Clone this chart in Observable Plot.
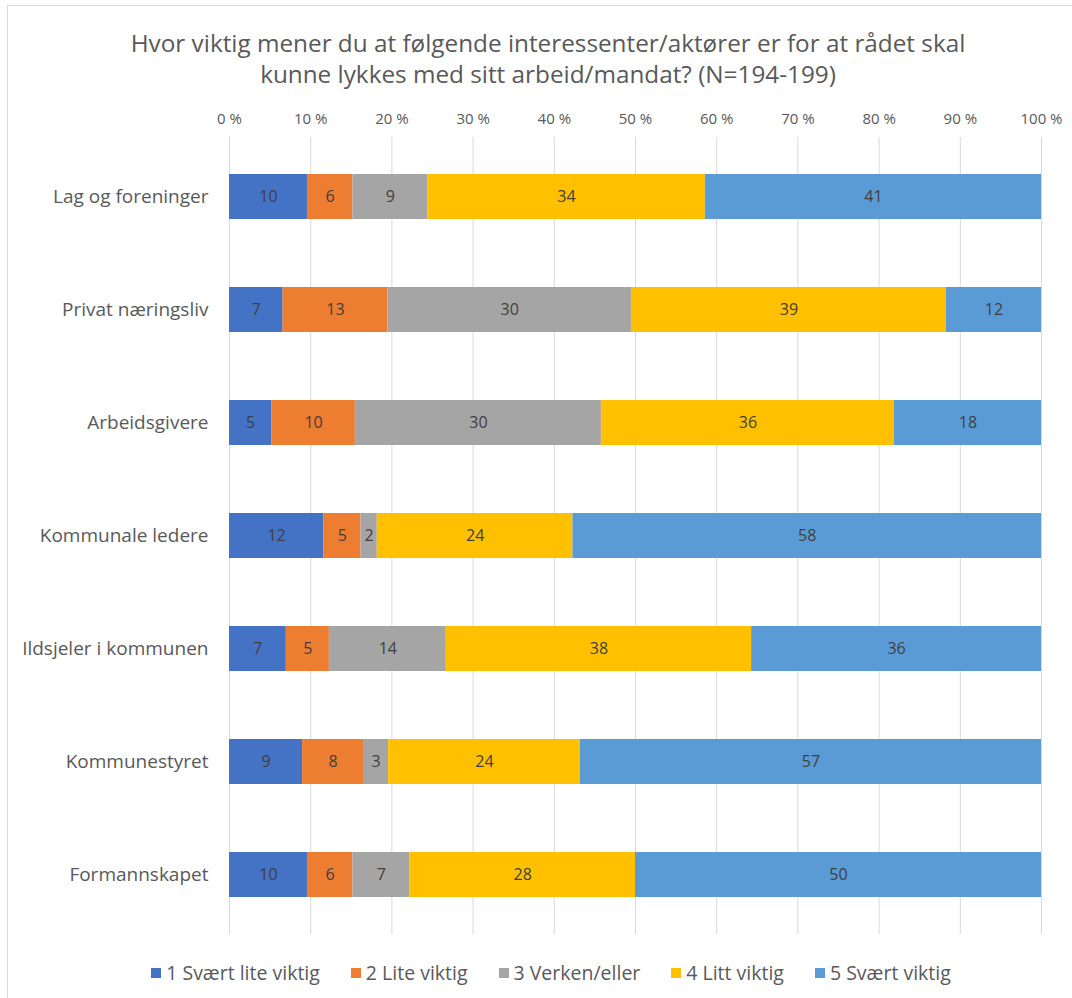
<!DOCTYPE html>
<html>
<head>
<meta charset="utf-8">
<script src="https://cdn.jsdelivr.net/npm/d3@7"></script>
<script src="https://cdn.jsdelivr.net/npm/@observablehq/plot@0.6"></script>
<style>
  html, body { margin: 0; padding: 0; background: #fff; }
  #wrap { position: relative; width: 1072px; height: 998px; overflow: hidden; font-family: "Open Sans", sans-serif; color: #595959; }
  #frame { position: absolute; left: 7px; top: 5px; width: 1200px; height: 1200px; border: 1px solid #d9d9d9; box-sizing: border-box; }
  #title { position: absolute; left: 0; top: 27px; width: 1096px; text-align: center; font-size: 24.3px; line-height: 31px; color: #595959; }
  #chart { position: absolute; left: 0; top: 0; }
  #legend { position: absolute; left: 0; top: 960px; width: 1102px; display: flex; justify-content: center; gap: 31px; font-size: 19.5px; line-height: 26px; color: #595959; }
  .item { display: flex; align-items: center; gap: 5px; }
  .sw { width: 10px; height: 10px; display: inline-block; }
</style>
</head>
<body>
<div id="wrap">
  <div id="frame"></div>
  <div id="title">Hvor viktig mener du at følgende interessenter/aktører er for at rådet skal<br>kunne lykkes med sitt arbeid/mandat? (N=194-199)</div>
  <div id="chart"></div>
  <div id="legend"></div>
</div>
<script>
// Categories (top to bottom)
const categories = [
  "Lag og foreninger",
  "Privat næringsliv",
  "Arbeidsgivere",
  "Kommunale ledere",
  "Ildsjeler i kommunen",
  "Kommunestyret",
  "Formannskapet"
];
// Series names
const seriesNames = ["1 Svært lite viktig", "2 Lite viktig", "3 Verken/eller", "4 Litt viktig", "5 Svært viktig"];
const seriesColors = ["#4472C4", "#ED7D31", "#A5A5A5", "#FFC000", "#5B9BD5"];
// Percent values per series, in category order
const s1 = [9.6, 6.6, 5.2, 11.6, 7.0, 9.0, 9.6];
const s2 = [5.6, 12.9, 10.3, 4.6, 5.3, 7.5, 5.6];
const s3 = [9.2, 30.0, 30.3, 2.0, 14.4, 3.1, 7.0];
const s4 = [34.2, 38.8, 36.1, 24.1, 37.6, 23.6, 27.8];
const s5 = [41.4, 11.7, 18.1, 57.7, 35.7, 56.8, 50.0];
// Axis ticks
const xTicks = [0, 10, 20, 30, 40, 50, 60, 70, 80, 90, 100];
const xTickLabels = ["0 %", "10 %", "20 %", "30 %", "40 %", "50 %", "60 %", "70 %", "80 %", "90 %", "100 %"];

const seriesValues = [s1, s2, s3, s4, s5];
const rows = [];
seriesNames.forEach((s, si) => {
  categories.forEach((c, ci) => {
    rows.push({cat: c, series: s, value: seriesValues[si][ci]});
  });
});

const chart = Plot.plot({
  width: 1072,
  height: 950,
  marginLeft: 229,
  marginRight: 31,
  marginTop: 137,
  marginBottom: 16,
  style: {fontFamily: "Open Sans, sans-serif", fontSize: "13px", color: "#595959", background: "transparent"},
  x: {domain: [0, 100]},
  y: {domain: categories, paddingInner: 0.6, paddingOuter: 0.3},
  color: {domain: seriesNames, range: seriesColors},
  marks: [
    Plot.gridX(xTicks, {stroke: "#d9d9d9", strokeOpacity: 1, strokeWidth: 1}),
    Plot.axisX({anchor: "top", ticks: xTicks, tickFormat: d => xTickLabels[xTicks.indexOf(d)], tickSize: 0, tickPadding: 14, label: null, fill: "#595959", fontSize: 15}),
    Plot.axisY({tickSize: 0, tickPadding: 21, label: null, fill: "#595959", fontSize: 19}),
    Plot.barX(rows, Plot.stackX({y: "cat", x: "value", z: "series", fill: "series"})),
    Plot.text(rows, Plot.stackX({y: "cat", x: "value", z: "series", text: d => String(Math.round(d.value)), fill: "#404040", fontSize: 16}))
  ]
});
document.getElementById("chart").appendChild(chart);

const legend = document.getElementById("legend");
seriesNames.forEach((s, i) => {
  const it = document.createElement("div");
  it.className = "item";
  const sw = document.createElement("span");
  sw.className = "sw";
  sw.style.background = seriesColors[i];
  const t = document.createElement("span");
  t.textContent = s;
  it.appendChild(sw);
  it.appendChild(t);
  legend.appendChild(it);
});
</script>
</body>
</html>
